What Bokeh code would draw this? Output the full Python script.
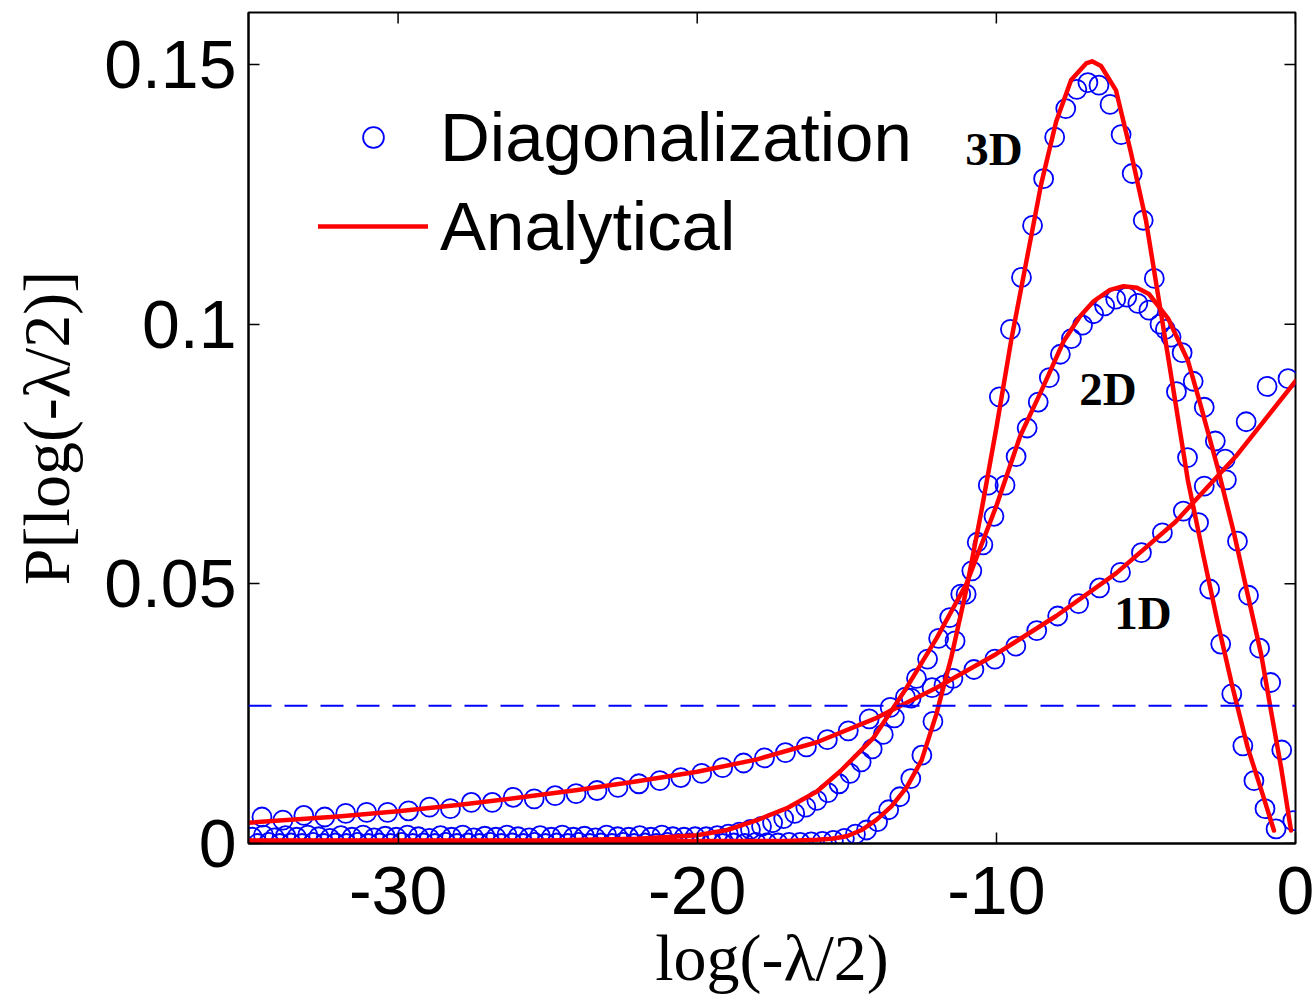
from bokeh.plotting import figure
from bokeh.models import Range1d, FixedTicker, Legend, LegendItem, Span
from bokeh.core.properties import value
from bokeh.embed import file_html
from bokeh.resources import INLINE

# ---------------- data ----------------
x_ticks = [-30, -20, -10, 0]
x_tick_labels = ["-30", "-20", "-10", "0"]
y_ticks = [0, 0.05, 0.1, 0.15]
y_tick_labels = ["0", "0.05", "0.1", "0.15"]

# 1D: diagonalization (markers)
x_1d_pts = [-34.55, -33.85, -33.15, -32.45, -31.75, -31.05, -30.35, -29.65, -28.95, -28.25,
            -27.55, -26.85, -26.15, -25.45, -24.75, -24.05, -23.35, -22.65, -21.95, -21.25,
            -20.55, -19.85, -19.15, -18.45, -17.75, -17.05, -16.35, -15.65, -14.95, -14.25,
            -13.55, -12.85, -12.15, -11.45, -10.75, -10.05, -9.35, -8.65, -7.95, -7.25,
            -6.55, -5.85, -5.15, -4.45, -3.75, -3.05, -2.35, -1.65, -0.95, -0.25]
y_1d_pts = [0.0051, 0.0045, 0.0054, 0.0051, 0.0058, 0.0060, 0.0060, 0.0063, 0.0070, 0.0067,
            0.0079, 0.0079, 0.0089, 0.0086, 0.0092, 0.0096, 0.0102, 0.0108, 0.0115, 0.0121,
            0.0127, 0.0135, 0.0146, 0.0155, 0.0165, 0.0175, 0.0186, 0.0200, 0.0217, 0.0240,
            0.0262, 0.0280, 0.0300, 0.0318, 0.0335, 0.0355, 0.0380, 0.0410, 0.0438, 0.0462,
            0.0492, 0.0522, 0.0560, 0.0598, 0.0640, 0.0688, 0.0740, 0.0812, 0.0880, 0.0895]

# 2D: diagonalization (markers)
x_2d_pts = [-34.87, -34.50, -34.13, -33.76, -33.39, -33.02, -32.65, -32.28, -31.91, -31.54,
            -31.17, -30.80, -30.43, -30.06, -29.69, -29.32, -28.95, -28.58, -28.21, -27.84,
            -27.47, -27.10, -26.73, -26.36, -25.99, -25.62, -25.25, -24.88, -24.51, -24.14,
            -23.77, -23.40, -23.03, -22.66, -22.29, -21.92, -21.55, -21.18, -20.81, -20.44,
            -20.07, -19.70, -19.33, -18.96, -18.59, -18.22, -17.85, -17.48, -17.11, -16.74,
            -16.37, -16.00, -15.63, -15.26, -14.89, -14.52, -14.15, -13.78, -13.41, -13.04,
            -12.67, -12.30, -11.93, -11.56, -11.19, -10.82, -10.45, -10.08, -9.71, -9.34,
            -8.97, -8.60, -8.23, -7.86, -7.49, -7.12, -6.75, -6.38, -6.01, -5.64,
            -5.27, -4.90, -4.53, -4.16, -3.79, -3.42, -3.05, -2.68, -2.31, -1.94,
            -1.57, -1.20, -0.83, -0.46, -0.09]
y_2d_pts = [0.0012, 0.0016, 0.0011, 0.0015, 0.0012, 0.0016, 0.0013, 0.0010, 0.0015, 0.0012,
            0.0016, 0.0011, 0.0014, 0.0012, 0.0016, 0.0013, 0.0010, 0.0015, 0.0012, 0.0016,
            0.0011, 0.0014, 0.0012, 0.0016, 0.0013, 0.0011, 0.0015, 0.0012, 0.0016, 0.0012,
            0.0014, 0.0011, 0.0016, 0.0013, 0.0012, 0.0015, 0.0012, 0.0016, 0.0013, 0.0012,
            0.0013, 0.0013, 0.0015, 0.0018, 0.0022, 0.0027, 0.0033, 0.0040, 0.0048, 0.0058,
            0.0070, 0.0083, 0.0098, 0.0115, 0.0135, 0.0157, 0.0182, 0.0210, 0.0242, 0.0282,
            0.0318, 0.0355, 0.0395, 0.0435, 0.0480, 0.0525, 0.0575, 0.0630, 0.0690, 0.0745,
            0.0800, 0.0850, 0.0897, 0.0942, 0.0972, 0.0998, 0.1020, 0.1035, 0.1048, 0.1052,
            0.1040, 0.1027, 0.1000, 0.0975, 0.0945, 0.0890, 0.0840, 0.0775, 0.0700, 0.0582,
            0.0478, 0.0376, 0.0310, 0.0180, 0.0044]

# 3D: diagonalization (markers)
x_3d_pts = [-34.69, -34.32, -33.95, -33.58, -33.21, -32.84, -32.47, -32.10, -31.73, -31.36,
            -30.99, -30.62, -30.25, -29.88, -29.51, -29.14, -28.77, -28.40, -28.03, -27.66,
            -27.29, -26.92, -26.55, -26.18, -25.81, -25.44, -25.07, -24.70, -24.33, -23.96,
            -23.59, -23.22, -22.85, -22.48, -22.11, -21.74, -21.37, -21.00, -20.63, -20.26,
            -19.89, -19.52, -19.15, -18.78, -18.41, -18.04, -17.67, -17.30, -16.93, -16.56,
            -16.19, -15.82, -15.45, -15.08, -14.71, -14.34, -13.97, -13.60, -13.23, -12.86,
            -12.49, -12.12, -11.75, -11.38, -11.01, -10.64, -10.27, -9.90, -9.53, -9.16,
            -8.79, -8.42, -8.05, -7.68, -7.31, -6.94, -6.57, -6.20, -5.83, -5.46,
            -5.09, -4.72, -4.35, -3.98, -3.61, -3.24, -2.87, -2.50, -2.13, -1.76,
            -1.39, -1.02, -0.65]
y_3d_pts = [0.0000, 0.0002, 0.0000, 0.0001, 0.0000, 0.0002, 0.0000, 0.0001, 0.0000, 0.0002,
            0.0000, 0.0001, 0.0000, 0.0002, 0.0000, 0.0001, 0.0000, 0.0002, 0.0000, 0.0001,
            0.0000, 0.0002, 0.0000, 0.0001, 0.0000, 0.0002, 0.0000, 0.0001, 0.0000, 0.0002,
            0.0000, 0.0001, 0.0000, 0.0002, 0.0000, 0.0001, 0.0000, 0.0002, 0.0000, 0.0001,
            0.0000, 0.0002, 0.0000, 0.0001, 0.0000, 0.0002, 0.0001, 0.0001, 0.0002, 0.0002,
            0.0003, 0.0004, 0.0006, 0.0010, 0.0018, 0.0026, 0.0042, 0.0065, 0.0090, 0.0125,
            0.0170, 0.0235, 0.0305, 0.0390, 0.0480, 0.0580, 0.0690, 0.0860, 0.0990, 0.1090,
            0.1190, 0.1280, 0.1360, 0.1415, 0.1452, 0.1465, 0.1460, 0.1423, 0.1365, 0.1290,
            0.1200, 0.1088, 0.0990, 0.0870, 0.0743, 0.0618, 0.0490, 0.0384, 0.0288, 0.0188,
            0.0121, 0.0067, 0.0028]

# Analytical curves
x_1d_fit = [-35, -32, -30, -28, -26, -24, -22, -20, -18, -16, -14, -12, -10, -8, -6, -4, -2, 0]
y_1d_fit = [0.0040, 0.0052, 0.0062, 0.0074, 0.0088, 0.0103, 0.0120, 0.0138, 0.0162, 0.0195,
            0.0242, 0.0300, 0.0365, 0.0438, 0.0520, 0.0620, 0.0745, 0.0890]

x_2d_fit = [-35, -30, -25, -22, -20, -19, -18, -17, -16, -15.2, -14.1, -13, -12, -11, -10,
            -9.2, -8.5, -7.75, -7.2, -6.75, -6.2, -5.75, -5.3, -4.9, -4.25, -3.6, -3.2, -2.6,
            -2.05, -1.6, -1.15, -0.82, -0.48, -0.15]
y_2d_fit = [0.0006, 0.0006, 0.0006, 0.0009, 0.0016, 0.0026, 0.0045, 0.0068, 0.0100, 0.0140,
            0.0204, 0.0300, 0.0395, 0.0500, 0.0650, 0.0785, 0.0871, 0.0967, 0.1015, 0.1044,
            0.1066, 0.1073, 0.1070, 0.1058, 0.1010, 0.0930, 0.0850, 0.0723, 0.0596, 0.0480,
            0.0365, 0.0256, 0.0146, 0.0025]

x_3d_fit = [-35, -20, -17, -16, -15.5, -15, -14.5, -14, -13.5, -13, -12.5, -12, -11.5, -11,
            -10.5, -10, -9.5, -9, -8.5, -8, -7.5, -7, -6.8, -6.5, -6, -5.5, -5, -4.6, -4.1,
            -3.6, -3.1, -2.6, -2.1, -1.6, -1.1, -0.72]
y_3d_fit = [0.0005, 0.0005, 0.0005, 0.0007, 0.0009, 0.0014, 0.0026, 0.0046, 0.0072, 0.0108,
            0.0160, 0.0250, 0.0360, 0.0490, 0.0640, 0.0800, 0.0970, 0.1120, 0.1270, 0.1390,
            0.1470, 0.1502, 0.1506, 0.1497, 0.1450, 0.1330, 0.1200, 0.1058, 0.0880, 0.0700,
            0.0560, 0.0425, 0.0300, 0.0185, 0.0095, 0.0025]

ref_level = 0.0265

curve_names = ["1D", "2D", "3D"]
name_x = [-5.1, -6.27, -10.08]
name_y = [0.0444, 0.0875, 0.1338]

# ---------------- figure ----------------
SANS = "Liberation Sans"
SERIF = "Liberation Serif"
BLUE = "#0000FF"
RED = "#FF0000"

X0, X1 = -35, 0
Y0, Y1 = 0, 0.16
W, H = 1315, 1004
BL, BR, BT, BB = 248, 20, 12, 161

p = figure(width=W, height=H, output_backend="svg", toolbar_location=None,
           x_range=Range1d(X0, X1), y_range=Range1d(Y0, Y1),
           min_border_left=BL, min_border_right=BR, min_border_top=BT, min_border_bottom=BB,
           x_axis_label="log(-λ/2)", y_axis_label="P[log(-λ/2)]")
p.grid.visible = False
p.background_fill_color = "white"
p.border_fill_color = "white"
p.outline_line_color = "black"
p.outline_line_width = 2


def style_axis(ax, ticks, labels, standoff):
    ax.ticker = FixedTicker(ticks=ticks)
    ax.major_label_overrides = {t: l for t, l in zip(ticks, labels)}
    ax.major_tick_in = 11
    ax.major_tick_out = 0
    ax.minor_tick_line_color = None
    ax.major_tick_line_color = "black"
    ax.major_tick_line_width = 1.5
    ax.axis_line_color = "black"
    ax.axis_line_width = 2
    ax.major_label_text_font = SANS
    ax.major_label_text_color = "black"
    ax.major_label_text_font_size = "68px"
    ax.major_label_standoff = standoff
    ax.axis_label_text_font = SERIF
    ax.axis_label_text_font_size = "66px"
    ax.axis_label_text_font_style = "normal"
    ax.axis_label_text_color = "black"


style_axis(p.xaxis[0], x_ticks, x_tick_labels, 23)
style_axis(p.yaxis[0], y_ticks, y_tick_labels, 12)
p.xaxis[0].axis_label_standoff = 4
p.yaxis[0].axis_label_standoff = 18

# mirrored inward ticks on the top and right edges (11 px long)
tick_dy = 11 * (Y1 - Y0) / (H - BT - BB)
tick_dx = 11 * (X1 - X0) / (W - BL - BR)
tk = dict(line_color="black", line_width=1.5)
p.segment(x0=x_ticks, y0=[Y1] * len(x_ticks), x1=x_ticks, y1=[Y1 - tick_dy] * len(x_ticks), **tk)
p.segment(x0=[X1] * len(y_ticks), y0=y_ticks, x1=[X1 - tick_dx] * len(y_ticks), y1=y_ticks, **tk)

# markers
mk = dict(marker="circle", size=19, fill_color=None, line_color=BLUE, line_width=1.8)
r1 = p.scatter(x_1d_pts, y_1d_pts, **mk)
p.scatter(x_2d_pts, y_2d_pts, **mk)
p.scatter(x_3d_pts, y_3d_pts, **mk)

# dashed reference level
p.add_layout(Span(location=ref_level, dimension="width", line_color=BLUE,
                  line_width=2, line_dash="23 13"))

# analytical curves
ln = dict(line_color=RED, line_width=4.5, line_join="round", line_cap="round")
l1 = p.line(x_1d_fit, y_1d_fit, **ln)
p.line(x_2d_fit, y_2d_fit, **ln)
p.line(x_3d_fit, y_3d_fit, **ln)

# curve names
p.text(x=name_x, y=name_y, text=curve_names, text_font=value(SERIF), text_font_style="bold",
       text_font_size="47px", text_align="center", text_baseline="middle", text_color="black")

legend = Legend(items=[LegendItem(label="Diagonalization", renderers=[r1]),
                       LegendItem(label="Analytical", renderers=[l1])],
                location=(70, 577), orientation="vertical",
                glyph_width=110, glyph_height=52, label_height=80, spacing=9,
                padding=0, margin=0, label_standoff=12,
                label_text_font=SANS, label_text_font_size="69px", label_text_color="black",
                border_line_alpha=0, background_fill_alpha=0)
p.add_layout(legend)

open("out.html", "w").write(file_html(p, INLINE))
